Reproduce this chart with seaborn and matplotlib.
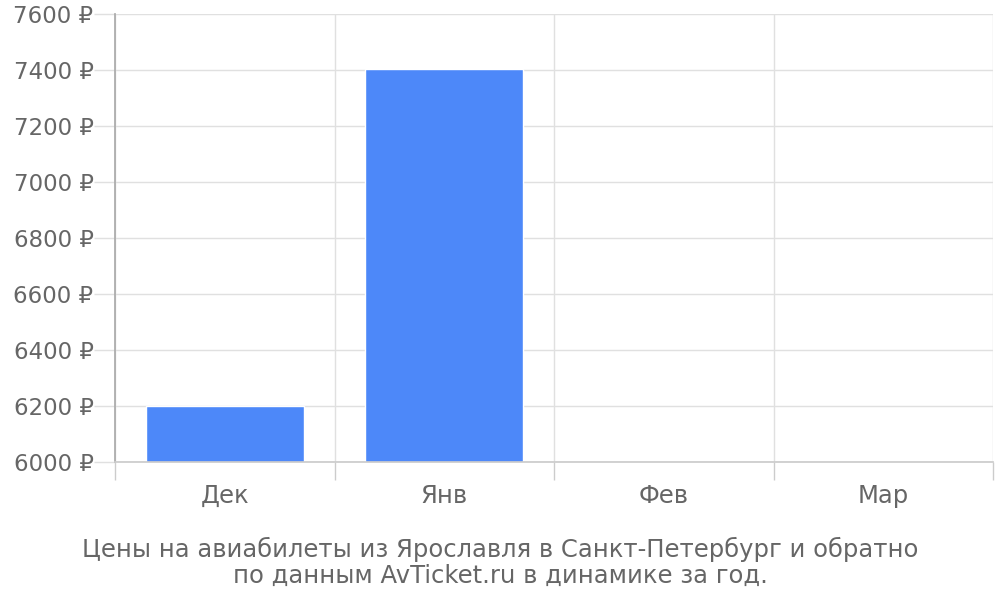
import matplotlib
matplotlib.use("Agg")
import matplotlib.pyplot as plt
import seaborn as sns
import pandas as pd
import numpy as np

months = ["Дек", "Янв", "Фев", "Мар"]
prices = [6200, 7404, np.nan, np.nan]
y_ticks = [6000, 6200, 6400, 6600, 6800, 7000, 7200, 7400, 7600]
caption = "Цены на авиабилеты из Ярославля в Санкт-Петербург и обратно\nпо данным AvTicket.ru в динамике за год."

sns.set_theme(style="white")
plt.rcParams['font.family'] = ['DejaVu Sans']

df = pd.DataFrame({"month": months, "price": prices})

fig = plt.figure(figsize=(10, 6), dpi=100)
ax = fig.add_axes([0.115, 0.23, 0.878, 0.747])

sns.barplot(data=df, x="month", y="price", order=months, color="#4d88f9",
            width=0.72, ax=ax, saturation=1, zorder=3)

ax.set_ylim(6000, 7600)
ax.set_xlim(-0.5, 3.5)
ax.set_yticks(y_ticks)
ax.set_yticklabels([f"{v} ₽" for v in y_ticks])
ax.set_xticks(range(len(months)))
ax.set_xticklabels(months)
ax.set_xticks(np.arange(-0.5, 4.0, 1.0), minor=True)
ax.set_xlabel("")
ax.set_ylabel("")

ax.grid(axis="y", color="#e0e0e0", linewidth=1, zorder=0)
ax.grid(axis="x", which="minor", color="#e0e0e0", linewidth=1, zorder=0)
ax.set_axisbelow(True)

ax.tick_params(axis="x", which="major", bottom=True, length=0, pad=16, labelsize=17.5, labelcolor="#666666")
ax.tick_params(axis="x", which="minor", bottom=True, length=13, width=1, color="#cccccc", direction="out")
ax.tick_params(axis="y", left=True, length=15, width=1, color="#e0e0e0", pad=0.5, labelsize=16.5, labelcolor="#666666")

for s in ["top", "right"]:
    ax.spines[s].set_visible(False)
ax.spines["left"].set_color("#aaaaaa")
ax.spines["bottom"].set_color("#cccccc")
ax.spines["left"].set_zorder(4)
ax.spines["bottom"].set_zorder(4)

fig.text(0.5, 0.062, caption, ha="center", va="center", fontsize=17.5,
         color="#666666", linespacing=1.1)

fig.savefig("out.png", dpi=100)
